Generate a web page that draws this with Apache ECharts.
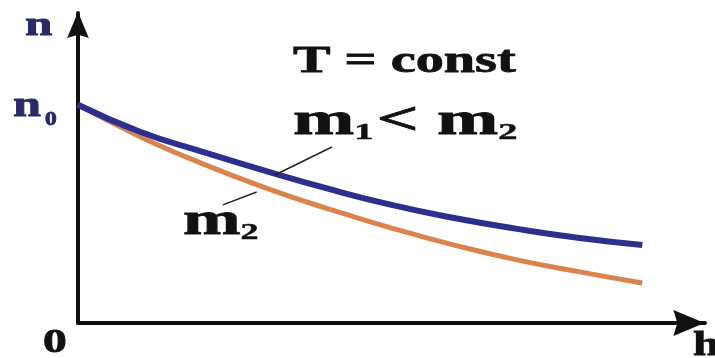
<!DOCTYPE html>
<html>
<head>
<meta charset="utf-8">
<script src="https://cdn.jsdelivr.net/npm/echarts@6/dist/echarts.min.js"></script>
<style>
  html, body { margin: 0; padding: 0; background: #fff; }
  #chart { width: 715px; height: 358px; }
</style>
</head>
<body>
<div id="chart"></div>
<script>
const heights = [0, 1, 2, 3, 4, 5, 6, 7, 8, 9]
// n / n0 for the lighter gas (m1) and the heavier one (m2)
const lightGas = [1.0, 0.875, 0.783, 0.696, 0.614, 0.541, 0.481, 0.431, 0.389, 0.357]
const heavyGas = [1.0, 0.852, 0.728, 0.618, 0.522, 0.435, 0.357, 0.289, 0.234, 0.183]

// leader lines from the labels to the curves, in data units
const leaderM1 = [[4.05, 0.806], [3.14, 0.678]]
const leaderM2 = [[2.85, 0.600], [2.31, 0.541]]

const serif = '"Liberation Serif", "DejaVu Serif", serif'
const navy = '#2b2b63'
// notched arrow head, tip pointing up before the axis rotates it
const arrowHead = 'path://M5,0L10,12L5,10.5L0,12Z'

function pairs(xs, ys) {
  return xs.map((x, i) => [x, ys[i]])
}

function leader(pts) {
  return [{ coord: pts[0] }, { coord: pts[1] }]
}

function label(text, x, y, size, color, sx) {
  return {
    type: 'text',
    x, y,
    scaleX: sx || 1.4,
    style: {
      text,
      font: `bold ${size}px ${serif}`,
      fill: color || '#111',
      stroke: color || '#111',
      lineWidth: 0.8,
    },
  }
}

function massLabel(text, x, y, sx) {
  return {
    type: 'text',
    x, y,
    scaleX: sx,
    style: {
      text,
      font: `bold 46px ${serif}`,
      fill: '#111',
      stroke: '#111',
      lineWidth: 0.8,
      rich: {
        m: { font: `bold 46px ${serif}`, fill: '#111', stroke: '#111', lineWidth: 0.8 },
        s: {
          font: `bold 24px ${serif}`, fill: '#111', stroke: '#111', lineWidth: 0.5,
          verticalAlign: 'bottom', padding: [0, 2, 0, 0],
        },
      },
    },
  }
}

const chart = echarts.init(document.getElementById('chart'))

chart.setOption({
  backgroundColor: '#fff',
  animation: false,
  grid: { left: 78, right: 10, top: 13, bottom: 35 },
  xAxis: {
    type: 'value',
    min: 0,
    max: 10,
    axisLine: {
      lineStyle: { color: '#111', width: 4 },
      symbol: ['none', arrowHead],
      symbolSize: [26, 34],
      symbolOffset: [0, -16],
    },
    axisTick: { show: false },
    axisLabel: { show: false },
    splitLine: { show: false },
  },
  yAxis: {
    type: 'value',
    min: 0,
    max: 1.42,
    axisLine: {
      show: true,
      lineStyle: { color: '#111', width: 4 },
      symbol: ['none', arrowHead],
      symbolSize: [30, 26],
      symbolOffset: [0, -12],
    },
    axisTick: { show: false },
    axisLabel: { show: false },
    splitLine: { show: false },
  },
  series: [
    {
      name: 'm2',
      type: 'line',
      data: pairs(heights, heavyGas),
      smooth: true,
      symbol: 'none',
      lineStyle: { color: '#d9834e', width: 5 },
      markLine: {
        silent: true,
        symbol: 'none',
        label: { show: false },
        lineStyle: { color: '#222', width: 1.5, type: 'solid' },
        data: [leader(leaderM2)],
      },
    },
    {
      name: 'm1',
      type: 'line',
      data: pairs(heights, lightGas),
      smooth: true,
      symbol: 'none',
      lineStyle: { color: '#2c2f8e', width: 6 },
      markLine: {
        silent: true,
        symbol: 'none',
        label: { show: false },
        lineStyle: { color: '#222', width: 1.5, type: 'solid' },
        data: [leader(leaderM1)],
      },
    },
  ],
  graphic: [
    label('n', 25, 9, 34, navy, 1.45),
    label('n', 13, 89, 36, navy, 1.4),
    label('0', 45, 111, 18, navy, 1.3),
    label('0', 43, 326, 34, '#111', 1.4),
    label('h', 693, 329, 34, '#111', 1.4),
    label('T = const', 293, 43, 38, '#111', 1.48),
    massLabel('{m|m}{s|1}{m|< m}{s|2}', 293, 99, 1.6),
    massLabel('{m|m}{s|2}', 183, 199, 1.5),
  ],
})
</script>
</body>
</html>
